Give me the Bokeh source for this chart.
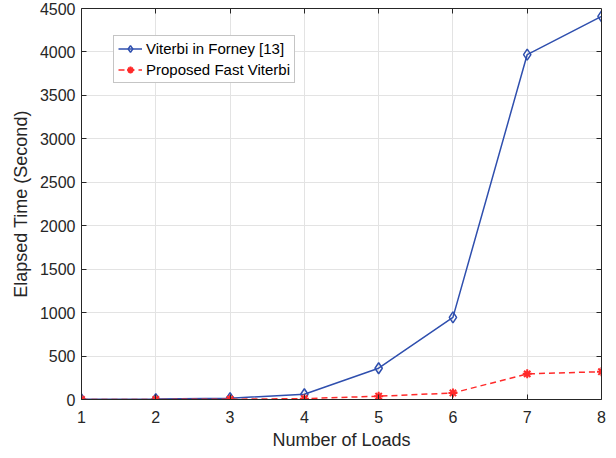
from bokeh.plotting import figure
from bokeh.models import LinearAxis, Range1d, FixedTicker, Legend, LegendItem, Grid
from bokeh.embed import file_html
from bokeh.resources import INLINE

loads = [1, 2, 3, 4, 5, 6, 7, 8]
viterbi_forney = [2, 5, 15, 60, 360, 945, 3970, 4410]
fast_viterbi = [0, 1, 3, 10, 38, 75, 295, 320]
x_ticks = [1, 2, 3, 4, 5, 6, 7, 8]
y_ticks = [0, 500, 1000, 1500, 2000, 2500, 3000, 3500, 4000, 4500]

FONT = "Liberation Sans"
TXT = "#262626"
BLUE = "#2f4fae"
RED = "#ff2a2a"

p = figure(width=616, height=458, output_backend="svg", toolbar_location=None,
           x_range=Range1d(1, 8), y_range=Range1d(0, 4500),
           min_border_left=81, min_border_right=15, min_border_top=8, min_border_bottom=59)
p.xaxis.visible = False
p.yaxis.visible = False

def style(ax, labels=True):
    ax.axis_line_color = "#262626"
    ax.axis_line_width = 1
    ax.major_tick_line_color = "#262626"
    ax.major_tick_in = 5
    ax.major_tick_out = 0
    ax.minor_tick_line_color = None
    ax.major_label_text_font = FONT
    ax.major_label_text_color = TXT
    ax.major_label_text_font_size = "16px"
    ax.axis_label_text_font = FONT
    ax.axis_label_text_color = TXT
    ax.axis_label_text_font_size = "18px"
    ax.axis_label_text_font_style = "normal"
    if not labels:
        ax.major_label_standoff = 0

bx = LinearAxis(ticker=FixedTicker(ticks=x_ticks), axis_label="Number of Loads")
style(bx)
bx.major_label_standoff = 11
bx.axis_label_standoff = 4
ly = LinearAxis(ticker=FixedTicker(ticks=y_ticks), axis_label="Elapsed Time (Second)")
style(ly)
ly.major_label_standoff = 6
ly.axis_label_standoff = 6
p.add_layout(bx, "below")
p.add_layout(ly, "left")

tx = LinearAxis(ticker=FixedTicker(ticks=x_ticks[1:-1]))
style(tx, False)
tx.major_label_overrides = {t: "" for t in x_ticks}
ry = LinearAxis(ticker=FixedTicker(ticks=y_ticks[1:-1]))
style(ry, False)
ry.major_label_overrides = {t: "" for t in y_ticks}
p.add_layout(tx, "above")
p.add_layout(ry, "right")

p.add_layout(Grid(dimension=0, ticker=FixedTicker(ticks=x_ticks), grid_line_color="#e3e3e3"))
p.add_layout(Grid(dimension=1, ticker=FixedTicker(ticks=y_ticks), grid_line_color="#e3e3e3"))
p.outline_line_color = None

l1 = p.line(loads, viterbi_forney, line_color=BLUE, line_width=1.5)
m1 = p.scatter(loads, viterbi_forney, marker="diamond", size=11, line_color=BLUE,
               fill_color=None, line_width=1.5)
l2 = p.line(loads, fast_viterbi, line_color=RED, line_width=1.5, line_dash="6 4")
m2 = p.scatter(loads, fast_viterbi, marker="asterisk", size=9, line_color=RED, line_width=2)

leg = Legend(items=[LegendItem(label="Viterbi in Forney [13]", renderers=[l1, m1]),
                    LegendItem(label="Proposed Fast Viterbi", renderers=[l2, m2])],
             location=(32, 316))
leg.label_text_font = FONT
leg.label_text_font_size = "15px"
leg.label_text_color = "#000000"
leg.border_line_color = "#8c8c8c"
leg.border_line_width = 1
leg.glyph_width = 24
leg.glyph_height = 17
leg.label_height = 17
leg.spacing = 4
leg.padding = 4
leg.margin = 0
leg.label_standoff = 4
leg.background_fill_color = "white"
p.add_layout(leg, "center")

open("out.html", "w").write(file_html(p, INLINE))
